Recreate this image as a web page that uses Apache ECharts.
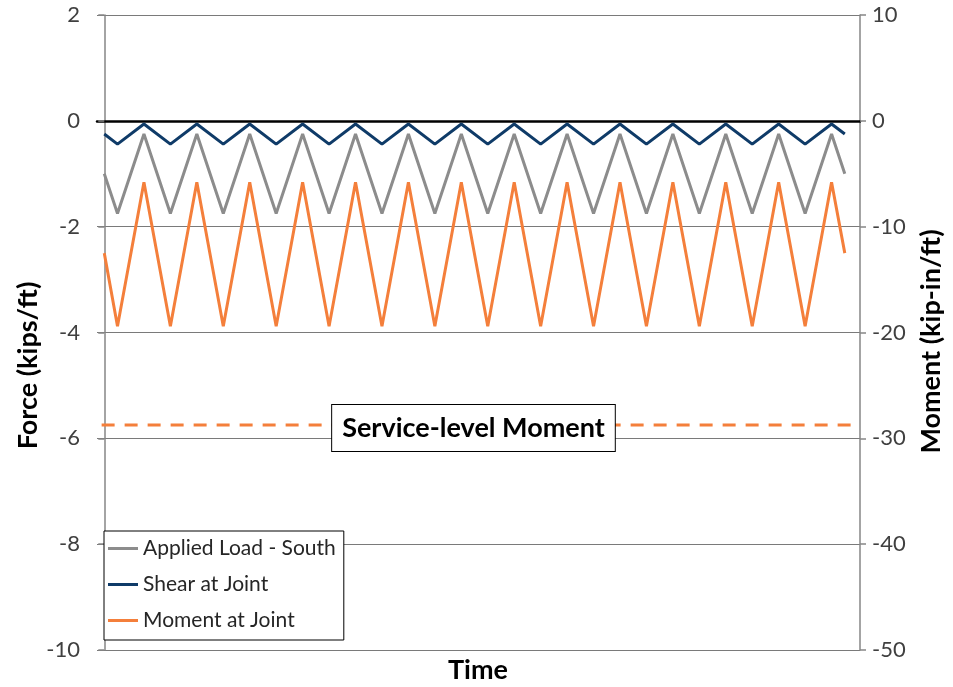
<!DOCTYPE html>
<html>
<head>
<meta charset="utf-8">
<script src="https://cdn.jsdelivr.net/npm/echarts@6/dist/echarts.min.js"></script>
<style>
  html, body { margin: 0; padding: 0; background: #fff; }
  #chart { width: 953px; height: 687px; }
</style>
</head>
<body>
<div id="chart"></div>
<script>
// Time steps (quarter-cycle units) at each turning point of the loading cycle
const time = [0, 1, 3, 5, 7, 9, 11, 13, 15, 17, 19, 21, 23, 25, 27, 29, 31,
              33, 35, 37, 39, 41, 43, 45, 47, 49, 51, 53, 55, 56];

// Applied load on the south face (kips/ft)
const appliedLoad = [-1.0, -1.75, -0.25, -1.75, -0.25, -1.75, -0.25, -1.75, -0.25,
                     -1.75, -0.25, -1.75, -0.25, -1.75, -0.25, -1.75, -0.25, -1.75,
                     -0.25, -1.75, -0.25, -1.75, -0.25, -1.75, -0.25, -1.75, -0.25,
                     -1.75, -0.25, -1.0];

// Shear at the joint (kips/ft)
const shear = [-0.25, -0.44, -0.06, -0.44, -0.06, -0.44, -0.06, -0.44, -0.06,
               -0.44, -0.06, -0.44, -0.06, -0.44, -0.06, -0.44, -0.06, -0.44,
               -0.06, -0.44, -0.06, -0.44, -0.06, -0.44, -0.06, -0.44, -0.06,
               -0.44, -0.06, -0.25];

// Moment at the joint (kip-in/ft)
const moment = [-12.5, -19.4, -5.8, -19.4, -5.8, -19.4, -5.8, -19.4, -5.8,
                -19.4, -5.8, -19.4, -5.8, -19.4, -5.8, -19.4, -5.8, -19.4,
                -5.8, -19.4, -5.8, -19.4, -5.8, -19.4, -5.8, -19.4, -5.8,
                -19.4, -5.8, -12.5];

// Service-level moment limit (kip-in/ft), drawn across the full time span
const serviceTime = [-0.2, 57.0];
const serviceMoment = [-28.75, -28.75];

const forceTicks = { min: -10, max: 2, interval: 2 };
const momentTicks = { min: -50, max: 10, interval: 10 };

const FONT = 'Lato, "Open Sans", sans-serif';
const LINE_ICON = 'rect';

const pairs = (xs, ys) => xs.map((x, i) => [x, ys[i]]);

const chart = echarts.init(document.getElementById('chart'), null, { renderer: 'canvas' });

chart.setOption({
  animation: false,
  backgroundColor: '#ffffff',
  textStyle: { fontFamily: FONT },
  grid: { left: 97, right: 85, top: 15, bottom: 37 },
  title: {
    text: 'Time',
    left: 478,
    top: 657,
    textAlign: 'center',
    padding: 0,
    textStyle: { fontFamily: FONT, fontSize: 27, fontWeight: 'bold', color: '#000' }
  },
  legend: {
    orient: 'vertical',
    left: 104,
    top: 531,
    backgroundColor: '#ffffff',
    borderColor: '#000000',
    borderWidth: 1,
    borderRadius: 0,
    padding: [7, 8, 9, 4],
    itemGap: 15,
    itemWidth: 30,
    itemHeight: 3,
    icon: LINE_ICON,
    textStyle: { fontFamily: FONT, fontSize: 21, color: '#262626', lineHeight: 21 },
    data: ['Applied Load - South', 'Shear at Joint', 'Moment at Joint']
  },
  xAxis: {
    type: 'value',
    min: -0.55,
    max: 57.15,
    axisLine: { show: true, onZero: true, lineStyle: { color: '#000', width: 2.5 } },
    axisTick: { show: false },
    axisLabel: { show: false },
    splitLine: { show: false }
  },
  yAxis: [
    {
      type: 'value',
      position: 'left',
      min: forceTicks.min,
      max: forceTicks.max,
      interval: forceTicks.interval,
      name: 'Force (kips/ft)',
      nameLocation: 'middle',
      nameRotate: 90,
      nameGap: 55,
      nameMoveOverlap: false,
      nameTextStyle: {
        fontFamily: FONT, fontSize: 27, fontWeight: 'bold', color: '#000',
        padding: [0, 66, 0, 0]
      },
      axisLine: { show: true, lineStyle: { color: '#868686', width: 1.5 } },
      axisTick: { show: true, length: 6, lineStyle: { color: '#868686', width: 1.5 } },
      axisLabel: { fontFamily: FONT, fontSize: 22, color: '#404040', margin: 17 },
      splitLine: { show: true, lineStyle: { color: '#7a7a7a', width: 1.2 } }
    },
    {
      type: 'value',
      position: 'right',
      min: momentTicks.min,
      max: momentTicks.max,
      interval: momentTicks.interval,
      name: 'Moment (kip-in/ft)',
      nameLocation: 'middle',
      nameRotate: 90,
      nameGap: 58,
      nameTextStyle: {
        fontFamily: FONT, fontSize: 27, fontWeight: 'bold', color: '#000',
        padding: [0, 18, 0, 0]
      },
      axisLine: { show: true, lineStyle: { color: '#868686', width: 1.5 } },
      axisTick: { show: true, length: 6, lineStyle: { color: '#868686', width: 1.5 } },
      axisLabel: { fontFamily: FONT, fontSize: 22, color: '#404040', margin: 12 },
      splitLine: { show: false }
    }
  ],
  series: [
    {
      name: 'Service-level Moment',
      type: 'line',
      yAxisIndex: 1,
      data: pairs(serviceTime, serviceMoment),
      symbol: 'none',
      silent: true,
      lineStyle: { color: '#F47F3B', width: 3, type: [13, 10] },
      markPoint: {
        symbol: 'rect',
        symbolSize: 1,
        itemStyle: { color: 'transparent' },
        data: [{ coord: [27.92, -28.75] }],
        label: {
          show: true,
          position: 'inside',
          formatter: 'Service-level Moment',
          offset: [0, 3],
          fontFamily: FONT,
          fontSize: 27,
          fontWeight: 'bold',
          color: '#000',
          backgroundColor: '#ffffff',
          borderColor: '#000000',
          borderWidth: 1,
          padding: [10, 10, 9, 10]
        }
      }
    },
    {
      name: 'Applied Load - South',
      type: 'line',
      yAxisIndex: 0,
      data: pairs(time, appliedLoad),
      symbol: 'none',
      lineStyle: { color: '#8C8C8C', width: 3 },
      itemStyle: { color: '#8C8C8C' }
    },
    {
      name: 'Shear at Joint',
      type: 'line',
      yAxisIndex: 0,
      data: pairs(time, shear),
      symbol: 'none',
      lineStyle: { color: '#0F3B68', width: 3 },
      itemStyle: { color: '#0F3B68' }
    },
    {
      name: 'Moment at Joint',
      type: 'line',
      yAxisIndex: 1,
      data: pairs(time, moment),
      symbol: 'none',
      lineStyle: { color: '#F47F3B', width: 3 },
      itemStyle: { color: '#F47F3B' }
    }
  ]
});
</script>
</body>
</html>
